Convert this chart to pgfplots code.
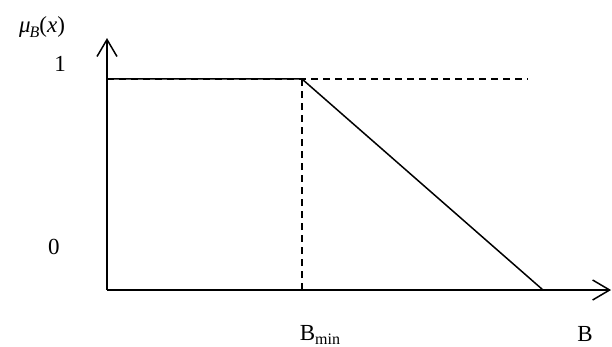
\documentclass[border=0pt]{standalone}
\usepackage{fontspec}
\setmainfont{Liberation Serif}
\usepackage{pgfplots}
\pgfplotsset{compat=1.18}
\usetikzlibrary{arrows.meta}
\newcommand{\lblfont}{\fontsize{23}{26}\selectfont}
\newcommand{\subfont}{\fontsize{16}{18}\selectfont}
\begin{document}
\begin{tikzpicture}
\begin{axis}[
  scale only axis, width=612pt, height=347pt,
  xmin=-0.5487, xmax=2.5897, ymin=-0.2701, ymax=1.3744,
  hide axis, clip=false,
]
% axes
\addplot[line width=1.5pt, -{Straight Barb[length=17pt,width=20pt,line width=1.5pt]}] coordinates {(0,0) (0,1.194)};
\addplot[line width=1.5pt, -{Straight Barb[length=17pt,width=20pt,line width=1.5pt]}] coordinates {(0,0) (2.585,0)};
% dashed lines
\addplot[line width=1.4pt, dash pattern=on 7pt off 5pt] coordinates {(0,1) (2.159,1)};
\addplot[line width=1.4pt, dash pattern=on 7pt off 5pt] coordinates {(1,0) (1,1)};
% membership function
\addplot[line width=1.5pt] coordinates {(0,1) (1,1) (2.236,0)};
% labels
\node[font=\lblfont] at (axis cs:-0.333,1.246) {\textit{μ}\kern-0.05em\raisebox{-0.45ex}{\subfont\textit{B}}(\textit{x})};
\node[font=\lblfont] at (axis cs:-0.241,1.071) {1};
\node[font=\lblfont] at (axis cs:-0.272,0.204) {0};
\node[font=\lblfont] at (axis cs:1.092,-0.213) {B\raisebox{-0.3ex}{\subfont min}};
\node[font=\lblfont] at (axis cs:2.451,-0.209) {B};
\end{axis}
\pgfresetboundingbox
\path (0,0) rectangle (612pt,347pt);
\end{tikzpicture}
\end{document}
